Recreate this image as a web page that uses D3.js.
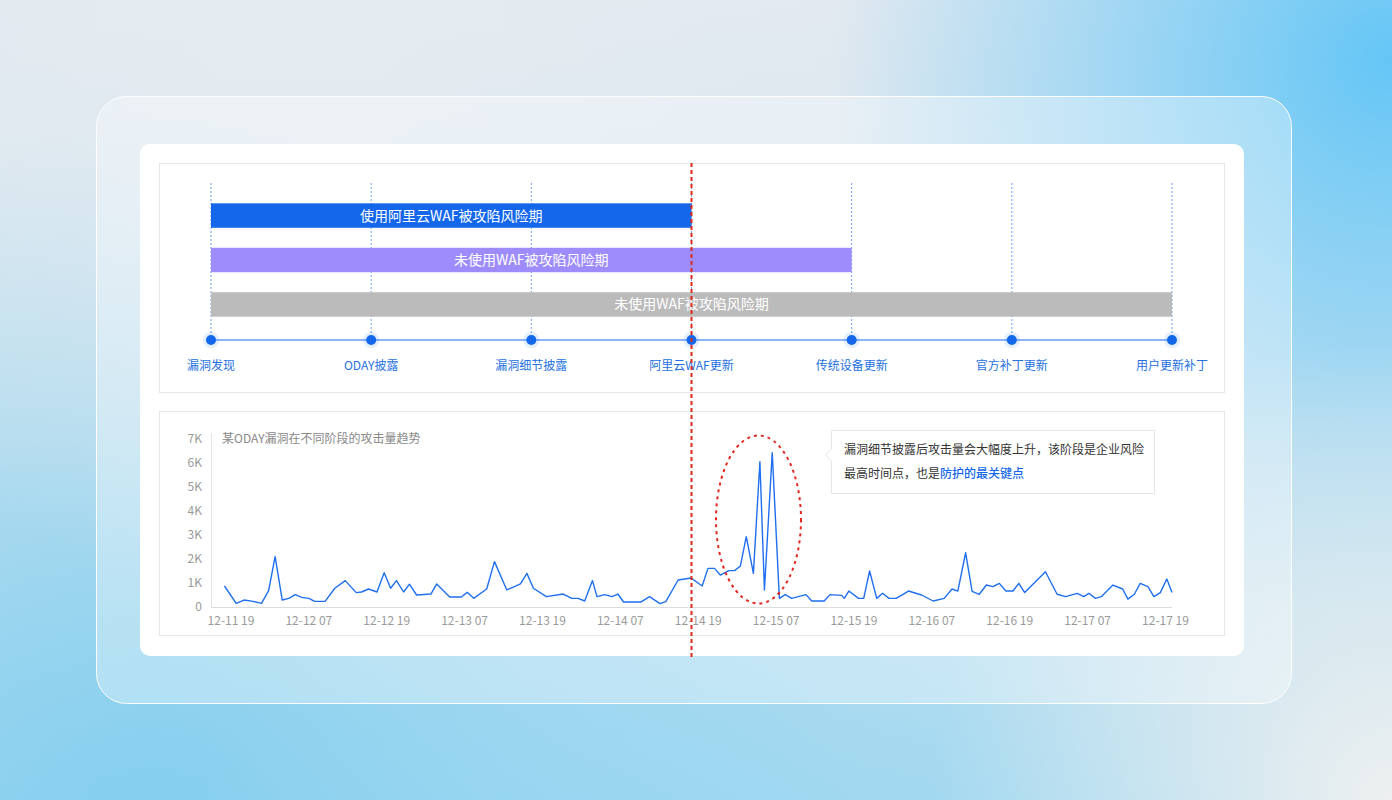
<!DOCTYPE html>
<html>
<head>
<meta charset="utf-8">
<script src="https://cdn.jsdelivr.net/npm/d3@7"></script>
<style>
  html, body { margin: 0; padding: 0; }
  body { width: 1392px; height: 800px; overflow: hidden; }
  svg { display: block; font-family: "Noto Sans CJK SC", "Noto Sans", sans-serif; }
</style>
</head>
<body>
<svg id="chart" width="1392" height="800"></svg>
<script>
// ---------- data ----------
const stages = ["漏洞发现", "ODAY披露", "漏洞细节披露", "阿里云WAF更新", "传统设备更新", "官方补丁更新", "用户更新补丁"];
const barLabels = ["使用阿里云WAF被攻陷风险期", "未使用WAF被攻陷风险期", "未使用WAF被攻陷风险期"];
const barStart = [0, 0, 0];
const barEnd = [3, 4, 6];

const chartTitle = "某ODAY漏洞在不同阶段的攻击量趋势";
const yTicks = [0, 1000, 2000, 3000, 4000, 5000, 6000, 7000];
const yTickLabels = ["0", "1K", "2K", "3K", "4K", "5K", "6K", "7K"];
const xTickLabels = ["12-11 19", "12-12 07", "12-12 19", "12-13 07", "12-13 19", "12-14 07", "12-14 19",
                     "12-15 07", "12-15 19", "12-16 07", "12-16 19", "12-17 07", "12-17 19"];
const xTickHours = [1, 13, 25, 37, 49, 61, 73, 85, 97, 109, 121, 133, 145];

// hours after 12-11 18:00, attacks
const hours = [0, 1.8, 3.0, 4.4, 5.7, 6.8, 7.8, 8.9, 9.9, 10.9, 11.9, 13.0, 13.9, 15.5, 17.0, 18.6, 20.3, 21.1, 22.2, 23.5,
  24.6, 25.6, 26.5, 27.6, 28.5, 29.6, 31.8, 32.7, 34.7, 36.5, 37.4, 38.4, 40.4, 41.6, 43.5, 45.6, 46.6, 47.6, 49.6,
  52.2, 53.5, 54.5, 55.5, 56.7, 57.4, 58.6, 59.7, 60.6, 61.5, 64.2, 65.5, 67.1, 68.0, 69.9, 71.9, 73.6, 74.5, 75.5,
  76.4, 77.7, 78.6, 79.5, 80.4, 81.5, 82.5, 83.2, 84.4, 85.5, 86.4, 87.4, 89.6, 90.5, 92.4, 93.3, 95.1, 95.5, 96.2,
  97.7, 98.5, 99.4, 100.5, 101.4, 102.4, 103.5, 105.4, 107.4, 109.2, 110.9, 112.1, 113.0, 114.2, 115.2, 116.3, 117.4,
  118.4, 119.4, 120.4, 121.5, 122.4, 123.3, 126.5, 128.3, 129.6, 131.4, 132.4, 133.2, 134.2, 135.1, 136.9, 138.4,
  139.2, 140.2, 141.1, 142.3, 143.2, 144.2, 145.2, 146.0];
const attacks = [875, 150, 290, 235, 150, 680, 2100, 290, 360, 515, 400, 360, 235, 235, 780, 1100, 600, 625, 750, 625,
  1430, 780, 1100, 625, 950, 500, 540, 960, 415, 415, 610, 360, 750, 1890, 710, 960, 1400, 780, 430,
  540, 360, 360, 250, 1100, 430, 515, 430, 540, 210, 210, 430, 140, 225, 1125, 1210, 875, 1610, 1610,
  1330, 1515, 1515, 1710, 2930, 1400, 6050, 710, 6430, 360, 515, 360, 515, 250, 250, 515, 485, 360, 665,
  360, 360, 1500, 360, 570, 360, 360, 665, 500, 250, 360, 750, 665, 2260, 650, 530, 915,
  850, 985, 665, 665, 985, 600, 1470, 530, 430, 570, 430, 570, 360, 430, 915, 750,
  330, 530, 985, 850, 430, 600, 1165, 600];

const noteLine1 = "漏洞细节披露后攻击量会大幅度上升，该阶段是企业风险";
const noteLine2a = "最高时间点，也是";
const noteLine2b = "防护的最关键点";

// ---------- drawing ----------
const svg = d3.select("#chart");
const defs = svg.append("defs");

// background
const bg1 = defs.append("linearGradient").attr("id", "bgLin").attr("x1", 0).attr("y1", 0).attr("x2", 0).attr("y2", 1);
bg1.append("stop").attr("offset", "0%").attr("stop-color", "#e2e9f0");
bg1.append("stop").attr("offset", "55%").attr("stop-color", "#cfe4ef");
bg1.append("stop").attr("offset", "100%").attr("stop-color", "#a6d9f0");
svg.append("rect").attr("width", 1392).attr("height", 800).attr("fill", "url(#bgLin)");

function radial(id, cx, cy, r, color, op) {
  const g = defs.append("radialGradient").attr("id", id).attr("gradientUnits", "userSpaceOnUse")
    .attr("cx", cx).attr("cy", cy).attr("r", r);
  g.append("stop").attr("offset", "0%").attr("stop-color", color).attr("stop-opacity", op);
  g.append("stop").attr("offset", "100%").attr("stop-color", color).attr("stop-opacity", 0);
  svg.append("rect").attr("width", 1392).attr("height", 800).attr("fill", `url(#${id})`);
}
radial("rTR", 1392, 60, 560, "#5ec4f6", 0.95);
radial("rBL", 150, 820, 700, "#7fcdee", 0.85);
radial("rBM", 700, 820, 500, "#9ad7f1", 0.6);
radial("rBR", 1392, 800, 460, "#eef0f0", 1);
radial("rTL", 300, 0, 600, "#e6ecf1", 0.8);

// glass panel
svg.append("rect").attr("x", 96.5).attr("y", 96.5).attr("width", 1195).attr("height", 607).attr("rx", 30)
  .attr("fill", "rgba(255,255,255,0.32)").attr("stroke", "rgba(255,255,255,0.95)").attr("stroke-width", 1);

// white card
svg.append("rect").attr("x", 140).attr("y", 144).attr("width", 1104).attr("height", 512).attr("rx", 10)
  .attr("fill", "#ffffff");

// panels
svg.append("rect").attr("x", 159.5).attr("y", 163.5).attr("width", 1065).attr("height", 229)
  .attr("fill", "none").attr("stroke", "#e6e6e6");
svg.append("rect").attr("x", 159.5).attr("y", 411.5).attr("width", 1065).attr("height", 224)
  .attr("fill", "none").attr("stroke", "#e6e6e6");

// ---------- timeline ----------
const sx = d3.scalePoint().domain(d3.range(stages.length)).range([211, 1172]);
const tl = svg.append("g");

// dotted verticals
tl.selectAll("line.v").data(stages).join("line")
  .attr("x1", (d, i) => sx(i)).attr("x2", (d, i) => sx(i))
  .attr("y1", 183).attr("y2", 340)
  .attr("stroke", "#6f9ff0").attr("stroke-width", 1).attr("stroke-dasharray", "2,2");

// bars
const barY = d3.scaleBand().domain(d3.range(barLabels.length)).range([198, 322]).paddingInner(0.45).paddingOuter(0.12);
const barColors = ["#1467eb", "#9e8cfc", "#bbbbbb"];
const bars = tl.selectAll("g.bar").data(barLabels).join("g");
bars.append("rect")
  .attr("x", (d, i) => sx(barStart[i]))
  .attr("y", (d, i) => barY(i))
  .attr("width", (d, i) => sx(barEnd[i]) - sx(barStart[i]))
  .attr("height", barY.bandwidth())
  .attr("fill", (d, i) => barColors[i]);
bars.append("text")
  .attr("x", (d, i) => (sx(barStart[i]) + sx(barEnd[i])) / 2)
  .attr("y", (d, i) => barY(i) + barY.bandwidth() / 2)
  .attr("dy", "0.36em")
  .attr("text-anchor", "middle")
  .attr("fill", "#ffffff").attr("font-size", 14).attr("font-weight", 400)
  .text(d => d);

// timeline axis line
tl.append("line").attr("x1", sx(0)).attr("x2", sx(stages.length - 1)).attr("y1", 340).attr("y2", 340)
  .attr("stroke", "#8bb5f6").attr("stroke-width", 2);
tl.selectAll("circle.halo").data(stages).join("circle")
  .attr("cx", (d, i) => sx(i)).attr("cy", 340).attr("r", 8)
  .attr("fill", "#1467eb").attr("fill-opacity", 0.12);
tl.selectAll("circle.dot").data(stages).join("circle")
  .attr("cx", (d, i) => sx(i)).attr("cy", 340).attr("r", 5)
  .attr("fill", "#1467eb");
tl.selectAll("text.stage").data(stages).join("text")
  .attr("x", (d, i) => sx(i)).attr("y", 366).attr("dy", "0.36em")
  .attr("text-anchor", "middle").attr("font-size", 12).attr("fill", "#2470e0")
  .text(d => d);

// ---------- line chart ----------
const x = d3.scaleLinear().domain([0, 146]).range([224.5, 1172]);
const y = d3.scaleLinear().domain([0, 7000]).range([607, 439]);

// y axis line
svg.append("line").attr("x1", 211.5).attr("x2", 211.5).attr("y1", 433).attr("y2", 607)
  .attr("stroke", "#e3e3e3");
// baseline
svg.append("line").attr("x1", 211).attr("x2", 1172).attr("y1", 607.5).attr("y2", 607.5)
  .attr("stroke", "#dcdcdc");

svg.append("g").selectAll("text").data(yTicks).join("text")
  .attr("x", 202).attr("y", d => y(d)).attr("dy", "0.36em")
  .attr("text-anchor", "end").attr("font-size", 12).attr("fill", "#9a9a9a")
  .text((d, i) => yTickLabels[i]);

svg.append("g").selectAll("text").data(xTickHours).join("text")
  .attr("x", d => x(d)).attr("y", 621).attr("dy", "0.36em")
  .attr("text-anchor", "middle").attr("font-size", 12).attr("fill", "#9a9a9a")
  .text((d, i) => xTickLabels[i]);

svg.append("text").attr("x", 222).attr("y", 439).attr("dy", "0.36em")
  .attr("font-size", 12).attr("fill", "#888888").text(chartTitle);

const pts = hours.map((h, i) => [h, attacks[i]]);
svg.append("path").datum(pts)
  .attr("d", d3.line().x(d => x(d[0])).y(d => y(d[1])))
  .attr("fill", "none").attr("stroke", "#1f6ff0").attr("stroke-width", 1.4)
  .attr("stroke-linejoin", "round");

// highlight ellipse
svg.append("ellipse").attr("cx", 758.5).attr("cy", 519.5).attr("rx", 42.5).attr("ry", 84)
  .attr("fill", "none").attr("stroke", "#e0281e").attr("stroke-width", 2).attr("stroke-dasharray", "3,4");

// annotation box
const note = svg.append("g");
note.append("path")
  .attr("d", "M831.5,430.5 H1154.5 V493.5 H831.5 V461 L825.5,455 L831.5,449 Z")
  .attr("fill", "#ffffff").attr("stroke", "#e5e5e5");
note.append("text").attr("x", 844).attr("y", 450).attr("dy", "0.36em")
  .attr("font-size", 12).attr("fill", "#333333").text(noteLine1);
const t2 = note.append("text").attr("x", 844).attr("y", 474).attr("dy", "0.36em")
  .attr("font-size", 12).attr("fill", "#333333");
t2.append("tspan").text(noteLine2a);
t2.append("tspan").attr("fill", "#1467eb").attr("font-weight", 500).text(noteLine2b);

// red dashed marker line (WAF update)
svg.append("line").attr("x1", sx(3)).attr("x2", sx(3)).attr("y1", 163).attr("y2", 660)
  .attr("stroke", "#dd2a1b").attr("stroke-width", 2).attr("stroke-dasharray", "4,3");
</script>
</body>
</html>
